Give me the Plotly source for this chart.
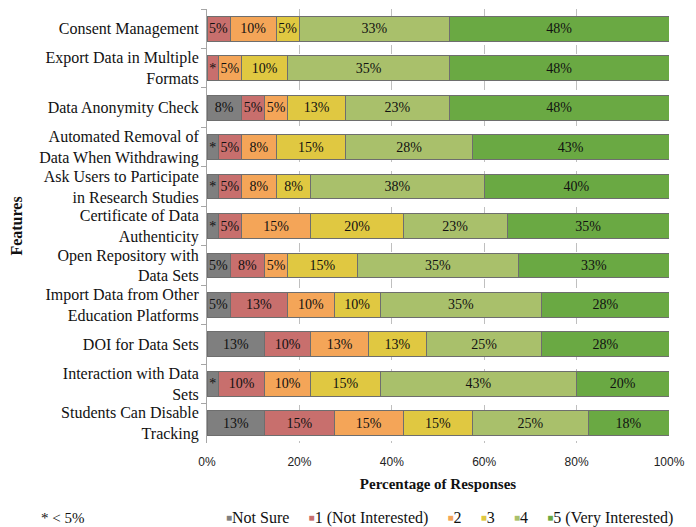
import plotly.graph_objects as go

categories = [
    "Consent Management",
    "Export Data in Multiple<br>Formats",
    "Data Anonymity Check",
    "Automated Removal of<br>Data When Withdrawing",
    "Ask Users to Participate<br>in Research Studies",
    "Certificate of Data<br>Authenticity",
    "Open Repository with<br>Data Sets",
    "Import Data from Other<br>Education Platforms",
    "DOI for Data Sets",
    "Interaction with Data<br>Sets",
    "Students Can Disable<br>Tracking",
]

not_sure = [0, 0, 7.5, 2.5, 2.5, 2.5, 5, 5, 12.5, 2.5, 12.5]
level_1 = [5, 2.5, 5, 5, 5, 5, 7.5, 12.5, 10, 10, 15]
level_2 = [10, 5, 5, 7.5, 7.5, 15, 5, 10, 12.5, 10, 15]
level_3 = [5, 10, 12.5, 15, 7.5, 20, 15, 10, 12.5, 15, 15]
level_4 = [32.5, 35, 22.5, 27.5, 37.5, 22.5, 35, 35, 25, 42.5, 25]
level_5 = [47.5, 47.5, 47.5, 42.5, 40, 35, 32.5, 27.5, 27.5, 20, 17.5]

series_names = ["Not Sure", "1 (Not Interested)", "2", "3", "4", "5 (Very Interested)"]
series_values = [not_sure, level_1, level_2, level_3, level_4, level_5]
series_colors = ["#7f7f7f", "#c86f6d", "#f4a558", "#e0c841", "#a9c06b", "#6aa943"]

x_ticks = [0, 20, 40, 60, 80, 100]


def label(v):
    if v <= 0:
        return ""
    if v < 5:
        return "*"
    return f"{int(v + 0.5)}%"


SERIF = "Liberation Serif"
SANS = "Liberation Sans"

fig = go.Figure()
for name, vals, col in zip(series_names, series_values, series_colors):
    fig.add_trace(go.Bar(
        y=categories,
        x=vals,
        name=name,
        orientation="h",
        marker=dict(color=col, line=dict(color="#6e6e6e", width=1)),
        text=[label(v) for v in vals],
        textposition="inside",
        insidetextanchor="middle",
        textangle=0,
        constraintext="none",
        textfont=dict(family=SERIF, size=14, color="#111111"),
        hoverinfo="x+y+name",
        showlegend=False,
    ))

# legend row drawn as text, built from the series names and colours
legend_parts = []
for name, col in zip(series_names, series_colors):
    legend_parts.append(
        f"<span style='color:{col};font-size:10px;baseline-shift:2px'>\u25a0</span>{name}"
    )
legend_text = "\u00a0\u00a0\u00a0\u00a0\u2009".join(legend_parts)

fig.update_layout(
    barmode="stack",
    bargap=0.37,
    width=688,
    height=519,
    margin=dict(l=199, r=27, t=1, b=84, autoexpand=False),
    plot_bgcolor="white",
    paper_bgcolor="white",
    font=dict(family=SERIF, size=15, color="#111111"),
    showlegend=False,
    xaxis=dict(
        range=[0, 100],
        tickvals=x_ticks,
        ticktext=[f"{t}%" for t in x_ticks],
        showgrid=True,
        gridcolor="#bfbfbf",
        griddash="dash",
        gridwidth=1,
        zeroline=False,
        showline=False,
        ticks="",
        ticklabelstandoff=10,
        tickfont=dict(family=SANS, size=12, color="#222222"),
        title=dict(text="<b>Percentage of Responses</b>", font=dict(family=SERIF, size=15), standoff=10),
    ),
    yaxis=dict(
        autorange="reversed",
        showline=True,
        linecolor="#a6a6a6",
        ticks="outside",
        tickson="boundaries",
        ticklen=5,
        tickcolor="#a6a6a6",
        ticklabelstandoff=4,
        tickfont=dict(family=SERIF, size=16),
        title=dict(text="<b>Features</b>", font=dict(family=SERIF, size=16), standoff=12),
    ),
    annotations=[
        dict(text="* < 5%", xref="paper", yref="paper", x=-0.3636, y=-0.1728,
             xanchor="left", yanchor="middle", showarrow=False,
             font=dict(family=SERIF, size=15)),
        dict(text=legend_text, xref="paper", yref="paper", x=0.525, y=-0.1728,
             xanchor="center", yanchor="middle", showarrow=False,
             font=dict(family=SERIF, size=16)),
    ],
)

fig.write_html("out.html")
